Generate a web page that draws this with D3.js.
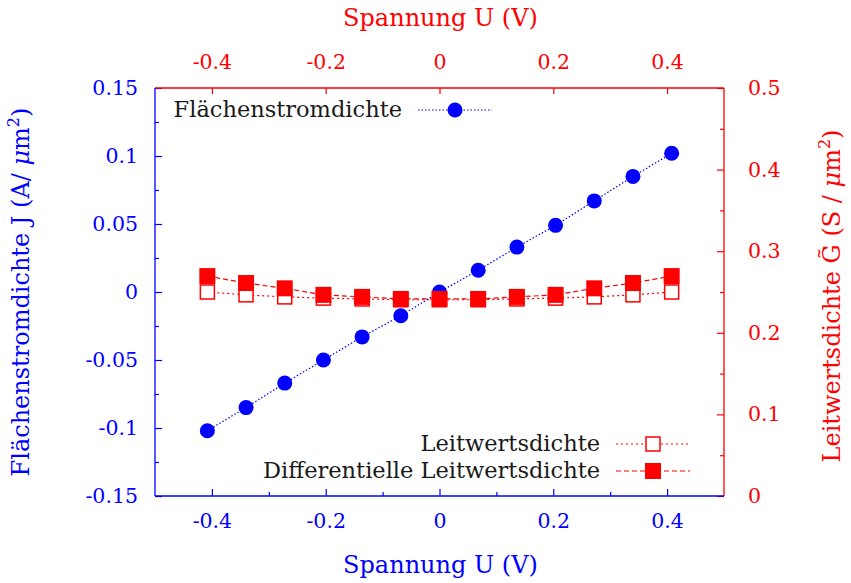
<!DOCTYPE html>
<html>
<head>
<meta charset="utf-8">
<script src="https://cdn.jsdelivr.net/npm/d3@7"></script>
<style>
  html, body { margin: 0; padding: 0; background: #fff; }
  svg { display: block; }
  text { font-family: "DejaVu Serif", "Liberation Serif", serif; }
</style>
</head>
<body>
<svg id="chart" width="851" height="583"></svg>
<script>
// Spannung U (V)
const voltage = [-0.408, -0.340, -0.272, -0.204, -0.136, -0.068, 0, 0.068, 0.136, 0.204, 0.272, 0.340, 0.408];
// Flächenstromdichte J (A/µm²)
const currentDensity = [-0.102, -0.085, -0.067, -0.050, -0.033, -0.0175, 0, 0.016, 0.033, 0.049, 0.067, 0.085, 0.102];
// Leitwertsdichte G = J/U (S/µm²)
const conductance = [0.250, 0.2465, 0.244, 0.2425, 0.2415, 0.2405, 0.2405, 0.2405, 0.2415, 0.2425, 0.244, 0.2465, 0.250];
// Differentielle Leitwertsdichte dJ/dU (S/µm²)
const diffConductance = [0.2695, 0.261, 0.2545, 0.2465, 0.244, 0.2415, 0.2415, 0.2415, 0.244, 0.2465, 0.2545, 0.261, 0.2695];

const xTicks = [-0.4, -0.2, 0, 0.2, 0.4];
const xMinorTicks = [-0.3, -0.1, 0.1, 0.3];
const yLeftTicks = [-0.15, -0.1, -0.05, 0, 0.05, 0.1, 0.15];
const yLeftMinorTicks = [-0.125, -0.075, -0.025, 0.025, 0.075, 0.125];
const yRightTicks = [0, 0.1, 0.2, 0.3, 0.4, 0.5];
const yRightMinorTicks = [0.05, 0.15, 0.25, 0.35, 0.45];

const BLUE = "#0000ff", RED = "#ff0000";
const FONT = '"DejaVu Serif", "Liberation Serif", serif';
const svg = d3.select("#chart");
const L = 155, R = 724, T = 88, B = 496;

const x = d3.scaleLinear().domain([-0.5, 0.5]).range([L, R]);
const yJ = d3.scaleLinear().domain([-0.15, 0.15]).range([B, T]);
const yG = d3.scaleLinear().domain([0, 0.5]).range([B, T]);

const fmt = d => d === 0 ? "0" : String(d);
const fsTick = 20.5, fsTitle = 24, fsLegend = 22.5;

function drawAxis(axisGen, tr, color) {
  const g = svg.append("g").attr("transform", tr).call(axisGen);
  g.select(".domain").remove();
  g.selectAll("line").attr("stroke", color).attr("stroke-width", 1.2);
  g.selectAll("text").attr("fill", color).attr("font-size", fsTick).style("font-family", FONT);
  return g;
}

// bottom axis (blue), ticks pointing inward
drawAxis(d3.axisBottom(x).tickValues(xTicks).tickFormat(fmt).tickSizeInner(-7).tickSizeOuter(0).tickPadding(17),
  `translate(0,${B})`, BLUE);
drawAxis(d3.axisBottom(x).tickValues(xMinorTicks).tickFormat("").tickSizeInner(-4).tickSizeOuter(0),
  `translate(0,${B})`, BLUE);
// top axis (red), major ticks only
drawAxis(d3.axisTop(x).tickValues(xTicks).tickFormat(fmt).tickSizeInner(-6).tickSizeOuter(0).tickPadding(19),
  `translate(0,${T})`, RED);
// left axis (blue)
drawAxis(d3.axisLeft(yJ).tickValues(yLeftTicks).tickFormat(fmt).tickSizeInner(-7).tickSizeOuter(0).tickPadding(17),
  `translate(${L},0)`, BLUE);
drawAxis(d3.axisLeft(yJ).tickValues(yLeftMinorTicks).tickFormat("").tickSizeInner(-4).tickSizeOuter(0),
  `translate(${L},0)`, BLUE);
// right axis (red)
drawAxis(d3.axisRight(yG).tickValues(yRightTicks).tickFormat(fmt).tickSizeInner(-7).tickSizeOuter(0).tickPadding(24),
  `translate(${R},0)`, RED);
drawAxis(d3.axisRight(yG).tickValues(yRightMinorTicks).tickFormat("").tickSizeInner(-4).tickSizeOuter(0),
  `translate(${R},0)`, RED);

// frame: left/bottom blue, top/right red
const frame = svg.append("g").attr("stroke-width", 1.3).attr("fill", "none");
frame.append("line").attr("x1", L).attr("x2", R).attr("y1", T).attr("y2", T).attr("stroke", RED);
frame.append("line").attr("x1", R).attr("x2", R).attr("y1", T).attr("y2", B).attr("stroke", RED);
frame.append("line").attr("x1", L).attr("x2", L).attr("y1", T).attr("y2", B).attr("stroke", BLUE);
frame.append("line").attr("x1", L).attr("x2", R).attr("y1", B).attr("y2", B).attr("stroke", BLUE);

// axis titles
svg.append("text").attr("x", (L + R) / 2 + 1).attr("y", 573).attr("text-anchor", "middle")
  .attr("fill", BLUE).attr("font-size", fsTitle).text("Spannung U (V)");
svg.append("text").attr("x", (L + R) / 2 + 1).attr("y", 26).attr("text-anchor", "middle")
  .attr("fill", RED).attr("font-size", fsTitle).text("Spannung U (V)");

function unitTitle(tr, color, label) {
  const t = svg.append("text").attr("transform", tr)
    .attr("text-anchor", "middle").attr("fill", color).attr("font-size", fsTitle);
  t.append("tspan").text(label);
  t.append("tspan").attr("font-style", "italic").text("μ");
  t.append("tspan").text("m");
  t.append("tspan").attr("font-size", 16).attr("dy", -10).text("2");
  t.append("tspan").attr("dy", 10).text(")");
}
unitTitle(`translate(29,${(T + B) / 2}) rotate(-90)`, BLUE, "Flächenstromdichte J (A/ ");
unitTitle(`translate(840,${(T + B) / 2 + 4}) rotate(-90)`, RED, "Leitwertsdichte G\u0303 (S / ");

// series data
const jData = voltage.map((u, i) => ({ u, v: currentDensity[i] }));
const gData = voltage.map((u, i) => ({ u, v: conductance[i] }));
const dData = voltage.map((u, i) => ({ u, v: diffConductance[i] }));

const lineJ = d3.line().x(d => x(d.u)).y(d => yJ(d.v));
const lineG = d3.line().x(d => x(d.u)).y(d => yG(d.v));

// Leitwertsdichte: dotted line + open squares
svg.append("path").datum(gData).attr("d", lineG).attr("fill", "none")
  .attr("stroke", RED).attr("stroke-width", 1.2).attr("stroke-dasharray", "2,3");
svg.append("g").selectAll("rect").data(gData).join("rect")
  .attr("x", d => x(d.u) - 7).attr("y", d => yG(d.v) - 7).attr("width", 14).attr("height", 14)
  .attr("fill", "#fff").attr("stroke", RED).attr("stroke-width", 1.5);

// Flächenstromdichte: dotted blue line + filled circles
svg.append("path").datum(jData).attr("d", lineJ).attr("fill", "none")
  .attr("stroke", BLUE).attr("stroke-width", 1.2).attr("stroke-dasharray", "1.5,2");
svg.append("g").selectAll("circle").data(jData).join("circle")
  .attr("cx", d => x(d.u)).attr("cy", d => yJ(d.v)).attr("r", 7.5).attr("fill", BLUE);

// Differentielle Leitwertsdichte: dashed line + filled squares
svg.append("path").datum(dData).attr("d", lineG).attr("fill", "none")
  .attr("stroke", RED).attr("stroke-width", 1.2).attr("stroke-dasharray", "5,3");
svg.append("g").selectAll("rect").data(dData).join("rect")
  .attr("x", d => x(d.u) - 8).attr("y", d => yG(d.v) - 8).attr("width", 16).attr("height", 16)
  .attr("fill", RED);

// legends
function legendEntry(xText, y, label, kind) {
  svg.append("text").attr("x", xText).attr("y", y + 7).attr("text-anchor", "end")
    .attr("fill", "#1a1a1a").attr("font-size", fsLegend).text(label);
  const x0 = xText + 16, x1 = x0 + 74, xm = (x0 + x1) / 2;
  const ln = svg.append("line").attr("x1", x0).attr("x2", x1).attr("y1", y).attr("y2", y).attr("stroke-width", 1.2);
  if (kind === "J") {
    ln.attr("stroke", BLUE).attr("stroke-dasharray", "1.5,2");
    svg.append("circle").attr("cx", xm).attr("cy", y).attr("r", 7.5).attr("fill", BLUE);
  } else if (kind === "G") {
    ln.attr("stroke", RED).attr("stroke-dasharray", "2,3");
    svg.append("rect").attr("x", xm - 7).attr("y", y - 7).attr("width", 14).attr("height", 14)
      .attr("fill", "#fff").attr("stroke", RED).attr("stroke-width", 1.5);
  } else {
    ln.attr("stroke", RED).attr("stroke-dasharray", "5,3");
    svg.append("rect").attr("x", xm - 8).attr("y", y - 8).attr("width", 16).attr("height", 16).attr("fill", RED);
  }
}
legendEntry(402, 110, "Flächenstromdichte", "J");
legendEntry(600, 444, "Leitwertsdichte", "G");
legendEntry(600, 471, "Differentielle Leitwertsdichte", "D");
</script>
</body>
</html>
